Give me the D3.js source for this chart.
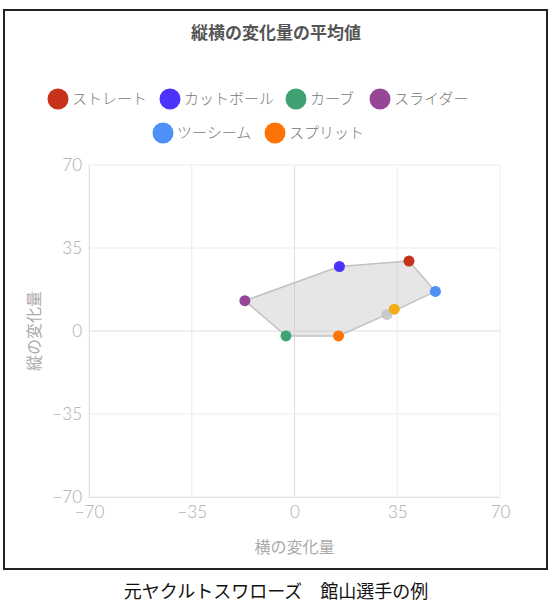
<!DOCTYPE html>
<html>
<head>
<meta charset="utf-8">
<script src="https://cdn.jsdelivr.net/npm/d3@7"></script>
<style>
  body { margin: 0; background: #fff; }
  svg { display: block; }
</style>
</head>
<body>
<svg id="chart" width="552" height="606"></svg>
<script>
// pitch types shown in the legend
const pitchNames = ['ストレート', 'カットボール', 'カーブ', 'スライダー', 'ツーシーム', 'スプリット'];
const pitchColors = ['#c7321b', '#4c33fb', '#40a173', '#974597', '#4f8ff8', '#fd7305'];
const horizontal = [39, 15.3, -2.9, -16.9, 48, 15];
const vertical = [29.5, 27.2, -2.1, 12.8, 16.7, -2.1];

// two extra points without legend entries
const extraColors = ['#c9c9c9', '#f3ad15'];
const extraHorizontal = [31.5, 34];
const extraVertical = [7, 9.2];

const ticks = [-70, -35, 0, 35, 70];
const title = '縦横の変化量の平均値';
const xTitle = '横の変化量';
const yTitle = '縦の変化量';
const caption = '元ヤクルトスワローズ\u3000館山選手の例';

const cjk = '"Noto Sans CJK JP", "Noto Sans", sans-serif';
const num = 'Lato, "Noto Sans", sans-serif';

const svg = d3.select('#chart');

// outer frame
svg.append('rect')
  .attr('x', 4).attr('y', 10)
  .attr('width', 543).attr('height', 559)
  .attr('fill', '#fff')
  .attr('stroke', '#222')
  .attr('stroke-width', 2);

svg.append('text')
  .attr('x', 276).attr('y', 39)
  .attr('text-anchor', 'middle')
  .attr('font-family', cjk)
  .attr('font-weight', 'bold')
  .attr('font-size', 17)
  .attr('fill', '#555')
  .text(title);

// legend
const legendRows = [[0, 1, 2, 3], [4, 5]];
const legendX = [[58, 170, 296, 380], [163, 275]];
const legendY = [99, 133];
legendRows.forEach((row, r) => {
  row.forEach((i, k) => {
    const g = svg.append('g')
      .attr('transform', 'translate(' + legendX[r][k] + ',' + legendY[r] + ')');
    g.append('circle').attr('r', 10.5).attr('fill', pitchColors[i]);
    g.append('text')
      .attr('x', 14).attr('dy', '0.36em')
      .attr('font-family', cjk)
      .attr('font-weight', 300)
      .attr('font-size', 15)
      .attr('fill', '#777')
      .text(pitchNames[i]);
  });
});

const x = d3.scaleLinear().domain([-70, 70]).range([89, 500]);
const y = d3.scaleLinear().domain([-70, 70]).range([497, 165]);

// grid
const grid = svg.append('g');
grid.selectAll('.vx').data(ticks).join('line')
  .attr('x1', d => x(d)).attr('x2', d => x(d))
  .attr('y1', y(70)).attr('y2', y(-70))
  .attr('stroke', d => d === 0 ? '#dedede' : '#ececec')
  .attr('stroke-width', 1);
grid.selectAll('.hy').data(ticks).join('line')
  .attr('y1', d => y(d)).attr('y2', d => y(d))
  .attr('x1', x(-70)).attr('x2', x(70))
  .attr('stroke', d => d === 0 ? '#dedede' : '#ececec')
  .attr('stroke-width', 1);

// axes
const xAxis = svg.append('g')
  .attr('transform', 'translate(0,' + y(-70) + ')')
  .call(d3.axisBottom(x).tickValues(ticks).tickSize(0).tickPadding(9));
const yAxis = svg.append('g')
  .attr('transform', 'translate(' + x(-70) + ',0)')
  .call(d3.axisLeft(y).tickValues(ticks).tickSize(0).tickPadding(7));
[xAxis, yAxis].forEach(a => {
  a.select('.domain').attr('stroke', '#e2e2e2');
  a.selectAll('text')
    .attr('font-family', num)
    .attr('font-weight', 300)
    .attr('font-size', 17)
    .attr('fill', '#aaa');
});

svg.append('text')
  .attr('x', x(0)).attr('y', 553)
  .attr('text-anchor', 'middle')
  .attr('font-family', cjk)
  .attr('font-size', 16)
  .attr('fill', '#aaa')
  .text(xTitle);

svg.append('text')
  .attr('transform', 'translate(40,' + y(0) + ') rotate(-90)')
  .attr('text-anchor', 'middle')
  .attr('font-family', cjk)
  .attr('font-size', 16)
  .attr('fill', '#aaa')
  .text(yTitle);

// polygon around the pitch averages
const allPts = horizontal.map((h, i) => [x(h), y(vertical[i])])
  .concat(extraHorizontal.map((h, i) => [x(h), y(extraVertical[i])]));
const hull = d3.polygonHull(allPts);
svg.append('path')
  .attr('d', 'M' + hull.join('L') + 'Z')
  .attr('fill', 'rgba(190,190,190,0.38)')
  .attr('stroke', '#c2c2c2')
  .attr('stroke-width', 1.5)
  .attr('stroke-linejoin', 'round');

// points
svg.append('g').selectAll('circle')
  .data(extraHorizontal.map((h, i) => ({h: h, v: extraVertical[i], c: extraColors[i]})))
  .join('circle')
  .attr('cx', d => x(d.h)).attr('cy', d => y(d.v))
  .attr('r', 5.5)
  .attr('fill', d => d.c);

svg.append('g').selectAll('circle')
  .data(horizontal.map((h, i) => ({h: h, v: vertical[i], c: pitchColors[i]})))
  .join('circle')
  .attr('cx', d => x(d.h)).attr('cy', d => y(d.v))
  .attr('r', 5.5)
  .attr('fill', d => d.c);

svg.append('text')
  .attr('x', 276).attr('y', 598)
  .attr('text-anchor', 'middle')
  .attr('font-family', cjk)
  .attr('font-size', 18)
  .attr('fill', '#111')
  .text(caption);
</script>
</body>
</html>
